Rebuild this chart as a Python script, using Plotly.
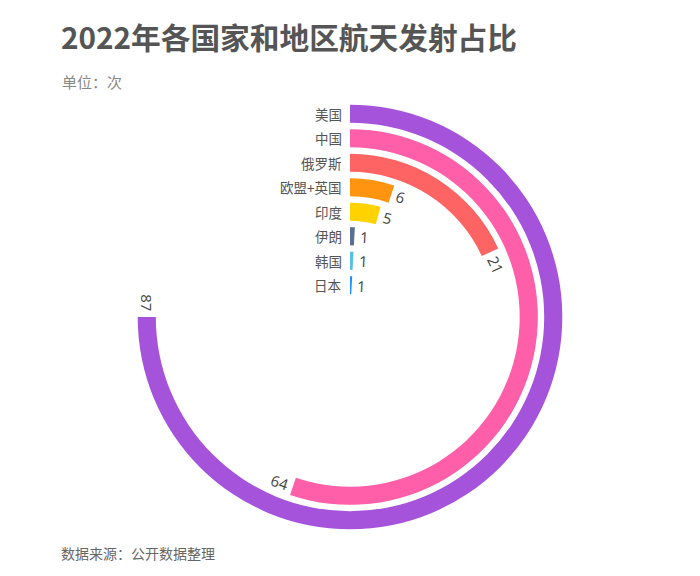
import math
import plotly.graph_objects as go

# ---- data ----
countries = ["美国", "中国", "俄罗斯", "欧盟+英国", "印度", "伊朗", "韩国", "日本"]
launches = [87, 64, 21, 6, 5, 1, 1, 1]
colors = ["#A653DC", "#FF5FA8", "#FF6464", "#FF9411", "#FFD200", "#5B6E96", "#5BBEE6", "#1E8FFF"]

title_text = "2022年各国家和地区航天发射占比"
unit_text = "单位：次"
source_text = "数据来源：公开数据整理"

# ---- geometry / style ----
OFF = 8                    # browser body margin
W, H = 700 - 2 * OFF, 576 - 2 * OFF
CX, CY = 350 - OFF, 317 - OFF   # circle centre in figure px (from top-left)
R_OUT = 215.5              # outer radius px
N = len(countries)
HOLE = 19.5 / R_OUT
BAR_FRAC = 0.74
ANGLE_MAX = max(launches) * 4 / 3   # longest bar spans 270 degrees
deg_per_unit = 360.0 / ANGLE_MAX

band_px = R_OUT * (1 - HOLE) / N
dom_x = [(CX - R_OUT) / W, (CX + R_OUT) / W]
dom_y = [(H - CY - R_OUT) / H, (H - CY + R_OUT) / H]

FONT = "Noto Sans CJK SC"


def px(x, y):
    return dict(x=x / W, y=1 - y / H, xref="paper", yref="paper")


fig = go.Figure()

for i, (name, v, c) in enumerate(zip(countries, launches, colors)):
    band = N - 1 - i
    ang = v * deg_per_unit
    fig.add_trace(go.Barpolar(
        r=[BAR_FRAC],
        base=[band + (1 - BAR_FRAC) / 2],
        theta=[ang / 2],
        width=[ang],
        marker=dict(color=c, line=dict(width=0)),
        name=name,
        hoverinfo="skip",
        showlegend=False,
    ))

annotations = []
for i, (name, v) in enumerate(zip(countries, launches)):
    band = N - 1 - i
    r_px = R_OUT * HOLE + (band + 0.5) * band_px
    # country label at ring start
    annotations.append(dict(
        **px(CX - 6, CY - r_px), text=name, showarrow=False,
        xanchor="right", yanchor="middle",
        font=dict(family=FONT, size=13.5, color="#555555"),
    ))
    # value label at ring end, rotated tangentially
    a = math.radians(v * deg_per_unit)
    ex = CX + r_px * math.sin(a)
    ey = CY - r_px * math.cos(a)
    txt = str(v)
    d = 6 + 4 * len(txt)
    lx = ex + d * math.cos(a)
    ly = ey + d * math.sin(a)
    rot = math.degrees(a)
    if 180 < rot < 360:
        rot -= 180
    annotations.append(dict(
        **px(lx, ly), text=txt, showarrow=False, textangle=rot,
        xanchor="center", yanchor="middle",
        font=dict(family="Open Sans", size=15, color="#444444"),
    ))

annotations += [
    dict(**px(59 - OFF, 36 - OFF), text="<b>" + title_text + "</b>",
         showarrow=False, xanchor="left", yanchor="middle",
         font=dict(family=FONT, size=29.7, color="#555555")),
    dict(**px(60 - OFF, 82 - OFF), text=unit_text,
         showarrow=False, xanchor="left", yanchor="middle",
         font=dict(family=FONT, size=15, color="#888888")),
    dict(**px(59 - OFF, 553 - OFF), text=source_text,
         showarrow=False, xanchor="left", yanchor="middle",
         font=dict(family=FONT, size=14, color="#666666")),
]

fig.update_layout(
    width=W, height=H,
    margin=dict(l=0, r=0, t=0, b=0),
    paper_bgcolor="white", plot_bgcolor="white",
    polar=dict(
        domain=dict(x=dom_x, y=dom_y),
        hole=HOLE,
        bgcolor="white",
        barmode="overlay",
        radialaxis=dict(range=[0, N], visible=False, showgrid=False),
        angularaxis=dict(rotation=90, direction="clockwise", visible=False,
                         showgrid=False),
    ),
    annotations=annotations,
)

fig.write_html("out.html")
